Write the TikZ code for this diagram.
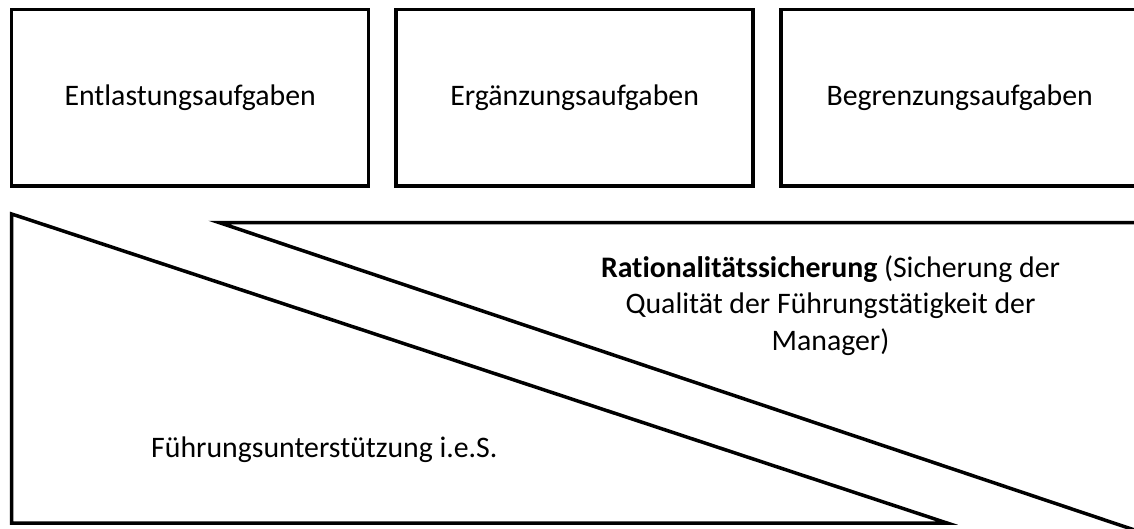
\documentclass[tikz,border=0pt]{standalone}
\usepackage{fontspec}
\setmainfont{Carlito}[Ligatures=NoCommon]
\begin{document}
\begin{tikzpicture}[x=1pt,y=-1pt,
  outline/.style={draw=black,line width=3.5pt,line join=miter},
  taskbox/.style={outline,rectangle,minimum width=357pt,minimum height=176.5pt,
    inner sep=0pt,font=\fontsize{29.8}{36.5}\selectfont},
  label/.style={inner sep=0pt,font=\fontsize{29.8}{36.5}\selectfont}]
  \useasboundingbox (0,0) rectangle (1134,528);
  \clip (0,0) rectangle (1134,528);

  % Three task boxes in a row
  \node[taskbox] (entl) at (190.2,97.8) {Entlastungsaufgaben};
  \node[taskbox] (ergz) at (574.6,97.8) {Ergänzungsaufgaben};
  \node[taskbox] (begr) at (959.7,97.8) {Begrenzungsaufgaben};

  % Lower-left wedge: support in the narrow sense
  \coordinate (fa) at (11.7,214);
  \coordinate (fb) at (11.7,523);
  \coordinate (fc) at (947,523);
  \draw[outline] (fa) -- (fb) -- (fc) -- cycle;

  % Upper-right wedge: rationality assurance
  \coordinate (ra) at (219,222.5);
  \coordinate (rb) at (1200,222.5);
  \coordinate (rc) at (1200,552);
  \draw[outline] (ra) -- (rb) -- (rc) -- cycle;

  \node[label,anchor=base west] (fu) at (151,457) {Führungsunterstützung i.e.S.};
  % multi-line node: the base anchor sits on its last line
  \node[label,align=center,anchor=base] (rat) at (830.5,350)
    {\textbf{Rationalitätssicherung} (Sicherung der\\
     Qualität der Führungstätigkeit der\\ Manager)};
\end{tikzpicture}
\end{document}
